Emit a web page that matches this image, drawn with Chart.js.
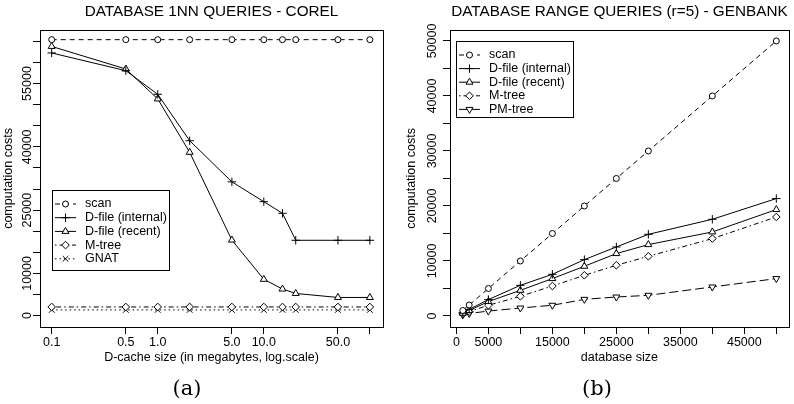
<!DOCTYPE html>
<html>
<head>
<meta charset="utf-8">
<script src="https://cdn.jsdelivr.net/npm/chart.js@4.4.1/dist/chart.umd.min.js"></script>
<style>
  body { margin: 0; background: #fff; width: 794px; height: 404px; position: relative; overflow: hidden; }
  canvas { position: absolute; top: 0; }
  #corel { left: 0; }
  #genbank { left: 397px; }
  .cap { position: absolute; top: 374px; width: 60px; text-align: center; font: 21px "DejaVu Serif", serif; line-height: 28px; color: #000; }
</style>
</head>
<body>
<canvas id="corel" width="397" height="404"></canvas>
<canvas id="genbank" width="397" height="404"></canvas>
<div class="cap" style="left:157px">(a)</div>
<div class="cap" style="left:567px">(b)</div>
<script>
/* (a) database 1NN queries - Corel */
const cacheSizes = [0.1, 0.5, 1, 2, 5, 10, 15, 20, 50, 100]
const corelScan = [65400, 65400, 65400, 65400, 65400, 65400, 65400, 65400, 65400, 65400]
const corelDfileInternal = [62250, 58050, 52450, 41450, 31700, 27000, 24250, 17850, 17850, 17850]
const corelDfileRecent = [63800, 58450, 51350, 38700, 17900, 8600, 6300, 5250, 4300, 4300]
const corelMtree = [2050, 2050, 2050, 2050, 2050, 2050, 2050, 2050, 2050, 2050]
const corelGnat = [1350, 1350, 1350, 1350, 1350, 1350, 1350, 1350, 1350, 1350]
const corelXTicks = [0.1, 0.5, 1, 5, 10, 50, 100]
const corelXLabels = ['0.1', '0.5', '1.0', '5.0', '10.0', '50.0', '']
const corelYTicks = [0, 5000, 10000, 15000, 20000, 25000, 30000, 35000, 40000, 45000, 50000, 55000, 60000, 65000]
const corelYLabels = ['0', '', '10000', '', '', '25000', '', '', '40000', '', '', '55000', '', '']

/* (b) database range queries (r=5) - GenBank */
const dbSizes = [1000, 2000, 5000, 10000, 15000, 20000, 25000, 30000, 40000, 50000]
const genScan = [1000, 2000, 5000, 10000, 15000, 20000, 25000, 30000, 40000, 50000]
const genDfileInternal = [600, 1200, 2980, 5580, 7580, 10250, 12550, 14850, 17580, 21350]
const genDfileRecent = [500, 1000, 2620, 4670, 6800, 9040, 11350, 12980, 15280, 19350]
const genMtree = [400, 800, 1950, 3580, 5450, 7400, 9220, 10850, 14070, 18000]
const genPMtree = [200, 450, 900, 1450, 1950, 3030, 3450, 3760, 5280, 6800]
const genXTicks = [0, 5000, 10000, 15000, 20000, 25000, 30000, 35000, 40000, 45000, 50000]
const genXLabels = ['0', '5000', '', '15000', '', '25000', '', '35000', '', '45000', '']
const genYTicks = [0, 5000, 10000, 15000, 20000, 25000, 30000, 35000, 40000, 45000, 50000]
const genYLabels = ['0', '', '10000', '', '20000', '', '30000', '', '40000', '', '50000']

const FONT = '"Liberation Sans", Arial, sans-serif'
Chart.defaults.font.family = FONT
Chart.defaults.font.size = 12.5
Chart.defaults.color = '#000'

/* line + marker styles, like the R lty / pch */
const styles = {
  scan:     { borderDash: [5, 4], pointStyle: 'circle', pointRadius: 3 },
  internal: { borderDash: [], pointStyle: 'cross', pointRadius: 4.2 },
  recent:   { borderDash: [], pointStyle: 'triangle', pointRadius: 4 },
  mtree:    { borderDash: [1.5, 3, 5, 3], pointStyle: 'rectRot', pointRadius: 3.8 },
  gnat:     { borderDash: [1.5, 3], pointStyle: 'crossRot', pointRadius: 4 },
  pmtree:   { borderDash: [9, 4], pointStyle: 'triangle', pointRadius: 4, pointRotation: 180 }
}

function series(label, xs, ys, st) {
  return Object.assign({
    label: label,
    data: xs.map((x, i) => ({ x: x, y: ys[i] })),
    borderColor: '#000',
    borderWidth: 1,
    pointBackgroundColor: '#fff',
    pointBorderColor: '#000',
    pointBorderWidth: 1,
    pointRotation: 0,
    fill: false,
    tension: 0
  }, st)
}

/* frame around the plot region */
const frame = {
  id: 'frame',
  afterDraw(chart) {
    const { ctx, chartArea: a } = chart
    ctx.save()
    ctx.strokeStyle = '#000'
    ctx.lineWidth = 1
    ctx.strokeRect(Math.round(a.left) + 0.5, Math.round(a.top) + 0.5, Math.round(a.right - a.left), Math.round(a.bottom - a.top))
    ctx.restore()
  }
}

/* boxed legend inside the plot, line sample + marker */
const boxLegend = {
  id: 'boxLegend',
  afterDatasetsDraw(chart, args, o) {
    const { ctx, chartArea } = chart
    const x0 = Math.round(chartArea.left + o.left), y0 = Math.round(chartArea.top + o.top)
    const sets = chart.data.datasets
    ctx.save()
    ctx.font = '12.5px ' + FONT
    const textW = Math.max(...sets.map(d => ctx.measureText(d.label).width))
    const w = Math.round(o.textOffset + textW + 2)
    const h = Math.round(o.rowTop + (sets.length - 1) * o.rowGap + o.rowBottom)
    ctx.fillStyle = '#fff'
    ctx.fillRect(x0, y0, w, h)
    ctx.strokeStyle = '#000'
    ctx.lineWidth = 1
    ctx.strokeRect(x0 + 0.5, y0 + 0.5, w, h)
    sets.forEach((d, i) => {
      const y = y0 + o.rowTop + i * o.rowGap
      ctx.setLineDash(d.borderDash)
      ctx.beginPath()
      ctx.moveTo(x0 + 3, y)
      ctx.lineTo(x0 + 24, y)
      ctx.stroke()
      ctx.setLineDash([])
      ctx.fillStyle = '#fff'
      Chart.helpers.drawPoint(ctx, { pointStyle: d.pointStyle, radius: d.pointRadius, rotation: d.pointRotation, borderWidth: 1 }, x0 + 13.5, y)
      ctx.fillStyle = '#000'
      ctx.textBaseline = 'middle'
      ctx.textAlign = 'left'
      ctx.fillText(d.label, x0 + o.textOffset, y)
    })
    ctx.restore()
  }
}

function tickAxis(extra) {
  return Object.assign({
    grid: { display: true, drawOnChartArea: false, drawTicks: true, tickLength: 7, color: '#000', lineWidth: 1 },
    border: { display: false }
  }, extra)
}

function makeChart(id, o) {
  return new Chart(document.getElementById(id), {
    type: 'line',
    data: { datasets: o.datasets },
    plugins: [frame, boxLegend],
    options: {
      responsive: false,
      animation: false,
      events: [],
      layout: { padding: { left: 0, right: o.padRight, top: 0, bottom: 32 } },
      plugins: {
        legend: { display: false },
        tooltip: { enabled: false },
        title: { display: true, text: o.title, fullSize: false, color: '#000',
                 font: { size: 15.3, weight: 'normal' }, padding: { top: 3, bottom: 8.6 } },
        boxLegend: o.legend
      },
      scales: {
        x: tickAxis({
          type: o.xType, min: o.xMin, max: o.xMax,
          afterBuildTicks: ax => { ax.ticks = o.xTicks.map(v => ({ value: v })) },
          afterFit: ax => { ax.height = 45 },
          ticks: { autoSkip: false, maxRotation: 0, padding: 1.5, callback: (v, i) => o.xLabels[i] },
          title: { display: true, text: o.xTitle, padding: { top: 0, bottom: 6.5 } }
        }),
        y: tickAxis({
          type: 'linear', min: o.yMin, max: o.yMax,
          afterBuildTicks: ax => { ax.ticks = o.yTicks.map(v => ({ value: v })) },
          afterFit: ax => { ax.width = o.yWidth },
          ticks: { autoSkip: false, minRotation: 90, maxRotation: 90, crossAlign: 'center', padding: o.yTickPad,
                   callback: (v, i) => o.yLabels[i] },
          title: { display: true, text: 'computation costs', padding: { top: o.yTitlePad, bottom: 0 } }
        })
      }
    }
  })
}

makeChart('corel', {
  title: 'DATABASE 1NN QUERIES - COREL',
  datasets: [
    series('scan', cacheSizes, corelScan, styles.scan),
    series('D-file (internal)', cacheSizes, corelDfileInternal, styles.internal),
    series('D-file (recent)', cacheSizes, corelDfileRecent, styles.recent),
    series('M-tree', cacheSizes, corelMtree, styles.mtree),
    series('GNAT', cacheSizes, corelGnat, styles.gnat)
  ],
  xType: 'logarithmic', xMin: 0.0776, xMax: 133,
  xTicks: corelXTicks, xLabels: corelXLabels,
  xTitle: 'D-cache size (in megabytes, log.scale)',
  yMin: -2700, yMax: 67700, yTicks: corelYTicks, yLabels: corelYLabels,
  yWidth: 40, yTickPad: -12.4, yTitlePad: 1.5,
  padRight: 14,
  legend: { left: 12, top: 160, textOffset: 33, rowTop: 14, rowGap: 13.7, rowBottom: 11 }
})

makeChart('genbank', {
  title: 'DATABASE RANGE QUERIES (r=5) - GENBANK',
  datasets: [
    series('scan', dbSizes, genScan, styles.scan),
    series('D-file (internal)', dbSizes, genDfileInternal, styles.internal),
    series('D-file (recent)', dbSizes, genDfileRecent, styles.recent),
    series('M-tree', dbSizes, genMtree, styles.mtree),
    series('PM-tree', dbSizes, genPMtree, styles.pmtree)
  ],
  xType: 'linear', xMin: -1000, xMax: 51950,
  xTicks: genXTicks, xLabels: genXLabels,
  xTitle: 'database size',
  yMin: -2000, yMax: 52000, yTicks: genYTicks, yLabels: genYLabels,
  yWidth: 53, yTickPad: -7.4, yTitlePad: 7.5,
  padRight: 2.3,
  legend: { left: 6, top: 10.7, textOffset: 33, rowTop: 14, rowGap: 13.6, rowBottom: 7.5 }
})
</script>
</body>
</html>
